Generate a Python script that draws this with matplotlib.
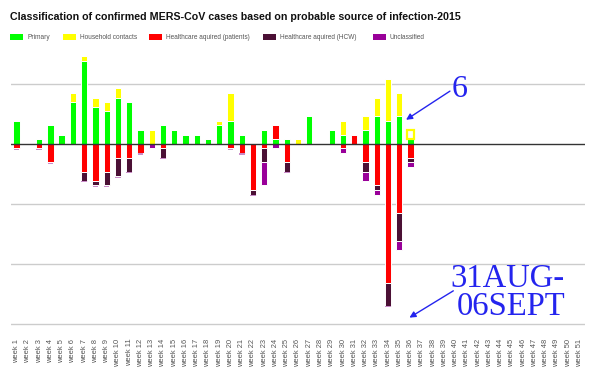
import matplotlib
matplotlib.use("Agg")
import matplotlib.pyplot as plt
import numpy as np
from matplotlib.patches import Rectangle

# ---------------- data (cases per epidemiological week, 2015) ----------------
weeks = [f"week {i}" for i in range(1, 52)]

primary = [5, 0, 1, 4, 2, 9, 18, 8, 7, 10, 9, 3, 0, 4, 3, 2, 2, 1, 4, 5,
           2, 0, 3, 1, 1, 0, 6, 0, 3, 2, 0, 3, 6, 5, 6, 1,
           0, 0, 0, 0, 0, 0, 0, 0, 0, 0, 0, 0, 0, 0, 0]
household = [0, 0, 0, 0, 0, 2, 1, 2, 2, 2, 0, 0, 3, 0, 0, 0, 0, 0, 1, 6,
             0, 0, 0, 0, 0, 1, 0, 0, 0, 3, 0, 3, 4, 9, 5, 2,
             0, 0, 0, 0, 0, 0, 0, 0, 0, 0, 0, 0, 0, 0, 0]
# healthcare-acquired series are plotted below the axis (negative), as in the chart
hc_patients = [-1, 0, -1, -4, 0, 0, -6, -8, -6, -3, -3, -2, 0, -1, 0, 0, 0, 0, 0, -1,
               -2, -10, -1, 3, -4, 0, 0, 0, 0, -1, 2, -4, -9, -30, -15, -3,
               0, 0, 0, 0, 0, 0, 0, 0, 0, 0, 0, 0, 0, 0, 0]
hc_hcw = [0, 0, 0, 0, 0, 0, -2, -1, -3, -4, -3, 0, 0, -2, 0, 0, 0, 0, 0, 0,
          0, -1, -3, 0, -2, 0, 0, 0, 0, 0, 0, -2, -1, -5, -6, -1,
          0, 0, 0, 0, 0, 0, 0, 0, 0, 0, 0, 0, 0, 0, 0]
unclassified = [0, 0, 0, 0, 0, 0, 0, 0, 0, 0, 0, 0, -1, 0, 0, 0, 0, 0, 0, 0,
                0, 0, -5, -1, 0, 0, 0, 0, 0, -1, 0, -2, -1, 0, -2, -1,
                0, 0, 0, 0, 0, 0, 0, 0, 0, 0, 0, 0, 0, 0, 0]

series_names = ["Primary", "Household contacts", "Healthcare aquired (patients)",
                "Healthcare aquired (HCW)", "Unclassified"]
series_colors = ["#00ff00", "#ffff00", "#ff0000", "#4b1035", "#990099"]
title = "Classification of confirmed MERS-CoV cases based on probable source of infection-2015"
hollow_week = "week 36"

# ---------------- figure ----------------
W, H = 594, 379
fig = plt.figure(figsize=(W / 100, H / 100), dpi=100)
fig.patch.set_facecolor("white")

ax_left, ax_right, ax_bottom_px, ax_top_px = 11, 585, 325.5, 50
ax = fig.add_axes([ax_left / W, 1 - ax_bottom_px / H,
                   (ax_right - ax_left) / W, (ax_bottom_px - ax_top_px) / H])
ymin = -39.3
unit = (ax_bottom_px - 144.3) / 39.0
ymax = (144.3 - ax_top_px) / unit
ax.set_xlim(-0.5, len(weeks) - 0.5)
ax.set_ylim(ymin, ymax)
for s in ax.spines.values():
    s.set_visible(False)
ax.set_yticks([])

# gridlines
for g in [13, -13, -26, -39]:
    ax.axhline(g, color="#cccccc", lw=1.0, zorder=0)
ax.axhline(0, color="#333333", lw=1.0, zorder=5)

x = np.arange(len(weeks))
pos_bottom = np.zeros(len(weeks))
neg_bottom = np.zeros(len(weeks))
bw = 0.56
all_series = [primary, household, hc_patients, hc_hcw, unclassified]
containers = []
for vals, col in zip(all_series, series_colors):
    v = np.array(vals, dtype=float)
    bottoms = np.where(v >= 0, pos_bottom, neg_bottom)
    c = ax.bar(x, v, bw, bottom=bottoms, color=col, edgecolor="white",
               linewidth=0.7, zorder=2)
    containers.append(c)
    pos_bottom = pos_bottom + np.where(v > 0, v, 0)
    neg_bottom = neg_bottom + np.where(v < 0, v, 0)

# empty "Unclassified" entries show as a thin pale sliver under negative stacks
unc = np.array(unclassified)
mask = (unc == 0) & (neg_bottom < 0)
ax.bar(x[mask], -0.28, bw - 0.06, bottom=neg_bottom[mask] - 0.08,
       color="#c98bc9", linewidth=0, zorder=2)

# the week-36 household bar appears hollow in the reference
hi = weeks.index(hollow_week)
p = containers[1].patches[hi]
p.set_facecolor("white")
p.set_edgecolor("#ffff00")
p.set_linewidth(1.6)

ax.set_xticks(x)
ax.set_xticklabels(weeks, rotation=90, va="top", ha="center",
                   fontsize=5.4, color="#555555", family="Liberation Sans")
ax.tick_params(axis="x", length=0, pad=9.5)

# ---------------- title & legend ----------------
fig.text(10 / W, 1 - 20 / H, title, fontsize=7.7, fontweight="bold",
         family="Liberation Sans", color="#111111",
         va="baseline", ha="left")

leg_patch_x = [10, 63, 149, 263, 373]
for name, col, px in zip(series_names, series_colors, leg_patch_x):
    fig.patches.append(Rectangle((px / W, 1 - 40 / H), 13 / W, 6 / H,
                                 transform=fig.transFigure, facecolor=col,
                                 edgecolor="none"))
    fig.text((px + 17) / W, 1 - 37.3 / H, name, fontsize=4.7, color="#555555",
             family="Liberation Sans", va="center", ha="left")

# ---------------- annotations ----------------
blue = "#2424ee"
ax.annotate("", xy=(34.6, 5.2), xytext=(38.5, 11.4),
            arrowprops=dict(arrowstyle="-|>", color=blue, lw=1.0,
                            mutation_scale=9, shrinkA=0, shrinkB=0), zorder=6)
ax.text(39.4, 10.2, "6", fontsize=23, color=blue, family="Liberation Serif",
        ha="center", va="baseline", zorder=6)
ax.annotate("", xy=(34.9, -37.6), xytext=(38.8, -31.8),
            arrowprops=dict(arrowstyle="-|>", color=blue, lw=1.0,
                            mutation_scale=9, shrinkA=0, shrinkB=0),
            zorder=6, annotation_clip=False)
ax.text(43.6, -30.9, "31AUG-", fontsize=23.5, color=blue, family="Liberation Serif",
        ha="center", va="baseline", zorder=6)
ax.text(43.96, -37.1, "06SEPT", fontsize=23.5, color=blue, family="Liberation Serif",
        ha="center", va="baseline", zorder=6)

fig.savefig("out.png", dpi=100)
